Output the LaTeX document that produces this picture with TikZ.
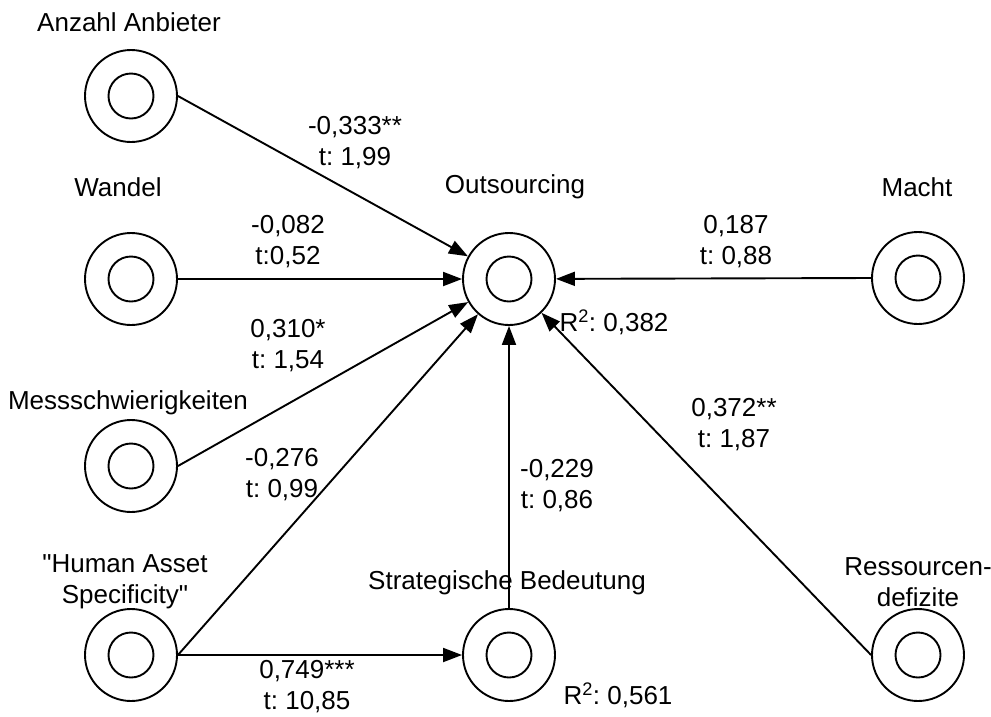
\documentclass[tikz,border=0pt]{standalone}
\usepackage{fontspec}
\setmainfont{Liberation Sans}[Ligatures=TeXOff]
\usetikzlibrary{arrows.meta}
\begin{document}
\frenchspacing
\begin{tikzpicture}[x=1pt,y=-1pt,
  outerc/.style={draw,circle,line width=1.9pt,minimum size=92pt,inner sep=0pt},
  innerc/.style={draw,circle,line width=1.9pt,minimum size=45pt,inner sep=0pt},
  lbl/.style={align=center,inner sep=0pt,font=\fontsize{26}{31}\selectfont},
  conn/.style={line width=1.9pt,-{Triangle[length=19pt,width=14pt]}}]
\useasboundingbox (0,0) rectangle (991,716);
% constructs
\node[outerc] (anz) at (131,96) {};  \node[innerc] (anzi) at (anz) {};
\node[outerc] (wan) at (131,279) {}; \node[innerc] (wani) at (wan) {};
\node[outerc] (mes) at (131,466) {}; \node[innerc] (mesi) at (mes) {};
\node[outerc] (has) at (131,655) {}; \node[innerc] (hasi) at (has) {};
\node[outerc] (out) at (509,279) {}; \node[innerc] (outi) at (out) {};
\node[outerc] (str) at (509,655) {}; \node[innerc] (stri) at (str) {};
\node[outerc] (mac) at (918,278) {}; \node[innerc] (maci) at (mac) {};
\node[outerc] (res) at (918,655) {}; \node[innerc] (resi) at (res) {};
% names
\node[lbl] (tanz) at (129,22) {Anzahl Anbieter};
\node[lbl] (twan) at (118,187) {Wandel};
\node[lbl] (tmes) at (128,403) {Messschwierigkeiten};
\node[lbl] (thas) at (125,582) {"Human Asset\\Specificity"};
\node[lbl] (tout) at (515,187) {Outsourcing};
\node[lbl] (tmac) at (917,187) {Macht};
\node[lbl] (tstr) at (507,583) {Strategische Bedeutung};
\node[lbl] (tres) at (918,582) {Ressourcen-\\defizite};
\node[lbl] (r1) at (614,322) {R\textsuperscript{2}: 0,382};
\node[lbl] (r2) at (618,695) {R\textsuperscript{2}: 0,561};
% connectors
\draw[conn] (anz.east) -- (out);
\draw[conn] (wan.east) -- (out);
\draw[conn] (mes.east) -- (out);
\draw[conn] (has.east) -- (out);
\draw[conn] (has.east) -- (str);
\draw[conn] (str.north) -- (out);
\draw[conn] (mac.west) -- (out);
\draw[conn] (res.west) -- (out);
% path coefficients
\node[lbl] (c1) at (355,143) {-0,333**\\t: 1,99};
\node[lbl] (c2) at (288,242) {-0,082\\t:0,52};
\node[lbl] (c3) at (736,242) {0,187\\t: 0,88};
\node[lbl] (c4) at (288,346) {0,310*\\t: 1,54};
\node[lbl] (c5) at (282,475) {-0,276\\t: 0,99};
\node[lbl] (c6) at (557,486) {-0,229\\t: 0,86};
\node[lbl] (c7) at (734,425) {0,372**\\t: 1,87};
\node[lbl] (c8) at (307,687) {0,749***\\t: 10,85};
\end{tikzpicture}
\end{document}
